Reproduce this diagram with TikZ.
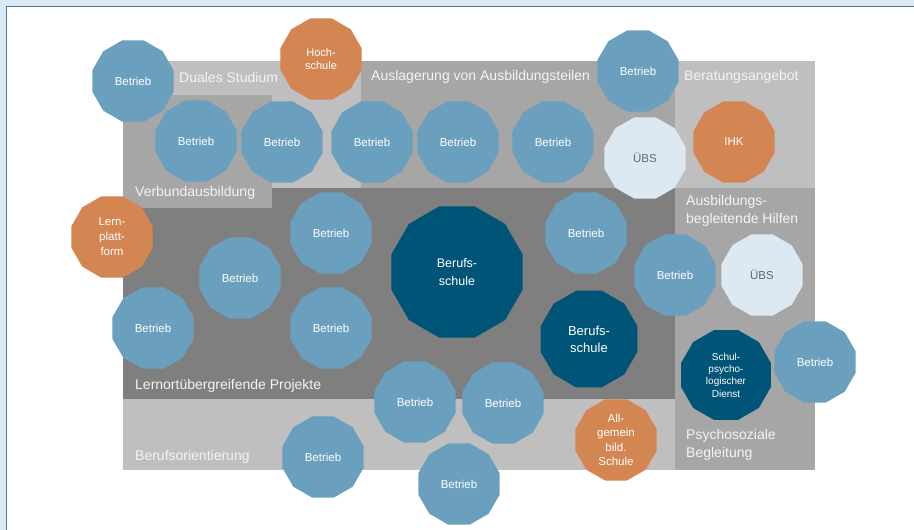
\documentclass[tikz,border=0pt]{standalone}
\usepackage{fontspec}
\setmainfont{Liberation Sans}
\usetikzlibrary{shapes.geometric}
\definecolor{bandblue}{HTML}{DDEAF3}
\definecolor{frameline}{HTML}{3C7A99}
\definecolor{betblue}{HTML}{6AA0BE}
\definecolor{navy}{HTML}{005478}
\definecolor{orng}{HTML}{D48652}
\definecolor{lightub}{HTML}{DCE9F2}
\definecolor{gLight}{HTML}{BFBFBF}
\definecolor{gMid}{HTML}{A6A6A6}
\definecolor{gDark}{HTML}{7F7F7F}
\definecolor{lbltext}{HTML}{F4F4F4}
\tikzset{
  poly/.style={regular polygon, regular polygon sides=12, inner sep=0pt, minimum size=84pt,
    text=white, align=center, font=\fontsize{11.5}{13}\selectfont},
  bet/.style={poly, fill=betblue},
  org/.style={poly, fill=orng},
  navyp/.style={poly, fill=navy},
  ubs/.style={poly, fill=lightub, text=black!60},
  lbl/.style={inner sep=0pt, anchor=west, align=left, text=lbltext, font=\fontsize{14}{18}\selectfont},
}
\begin{document}
\begin{tikzpicture}[x=1pt,y=-1pt]
\useasboundingbox (0,0) rectangle (914,530);
% frame
\fill[bandblue] (0,0) rectangle (914,530);
\fill[white] (6.5,6.5) rectangle (914,530);
\draw[frameline, line width=1.2pt] (6.5,530) -- (6.5,6.5) -- (914,6.5);
% regions
\fill[gLight] (123,61) rectangle (361,188);
\fill[gMid] (361,61) rectangle (675,188);
\fill[gLight] (675,61) rectangle (815,188);
\fill[gMid] (675,188) rectangle (815,470);
\fill[gDark] (123,188) rectangle (675,399);
\fill[gLight] (123,399) rectangle (675,470);
\fill[gMid] (123,95) rectangle (272,208);
% region labels
\node[lbl] (lDual) at (179,77) {Duales Studium};
\node[lbl] (lAus) at (371,77) {Auslagerung von Ausbildungsteilen};
\node[lbl] (lBer) at (684,77) {Beratungsangebot};
\node[lbl] (lVer) at (135,193) {Verbundausbildung};
\node[lbl] (lAbh) at (686,211) {Ausbildungs-\\begleitende Hilfen};
\node[lbl] (lLern) at (135,386) {Lernortübergreifende Projekte};
\node[lbl] (lBo) at (135,457) {Berufsorientierung};
\node[lbl] (lPsy) at (686,445) {Psychosoziale\\Begleitung};
% polygons
\node[bet] (b1) at (133,81) {Betrieb};
\node[org, font=\fontsize{11}{13}\selectfont] (hs) at (321,59) {Hoch-\\schule};
\node[bet] (b2) at (196,141) {Betrieb};
\node[bet] (b3) at (282,142) {Betrieb};
\node[bet] (b4) at (372,142) {Betrieb};
\node[bet] (b5) at (458,142) {Betrieb};
\node[bet] (b6) at (553,142) {Betrieb};
\node[bet] (b7) at (638,71) {Betrieb};
\node[ubs] (u1) at (645,158) {ÜBS};
\node[org] (ihk) at (734,142) {IHK};
\node[org, font=\fontsize{11.5}{15}\selectfont] (lp) at (112,237) {Lern-\\platt-\\form};
\node[bet] (b8) at (331,233) {Betrieb};
\node[bet] (b9) at (240,278) {Betrieb};
\node[bet] (b10) at (153,328) {Betrieb};
\node[bet] (b11) at (331,328) {Betrieb};
\node[navyp, minimum size=136pt, font=\fontsize{12.5}{18}\selectfont] (bs1) at (457,272) {Berufs-\\schule};
\node[bet] (b12) at (586,233) {Betrieb};
\node[bet] (b13) at (675,275) {Betrieb};
\node[ubs] (u2) at (762,275) {ÜBS};
\node[navyp, minimum size=100pt, font=\fontsize{13}{17}\selectfont] (bs2) at (589,339) {Berufs-\\schule};
\node[navyp, minimum size=93pt, font=\fontsize{10}{12.3}\selectfont] (sp) at (726,375) {Schul-\\psycho-\\logischer\\Dienst};
\node[bet] (b14) at (815,362) {Betrieb};
\node[bet] (b15) at (415,402) {Betrieb};
\node[bet] (b16) at (503,403) {Betrieb};
\node[org, font=\fontsize{11.5}{14.3}\selectfont] (ag) at (616,440) {All-\\gemein\\bild.\\Schule};
\node[bet] (b17) at (323,457) {Betrieb};
\node[bet] (b18) at (459,484) {Betrieb};
\end{tikzpicture}
\end{document}
